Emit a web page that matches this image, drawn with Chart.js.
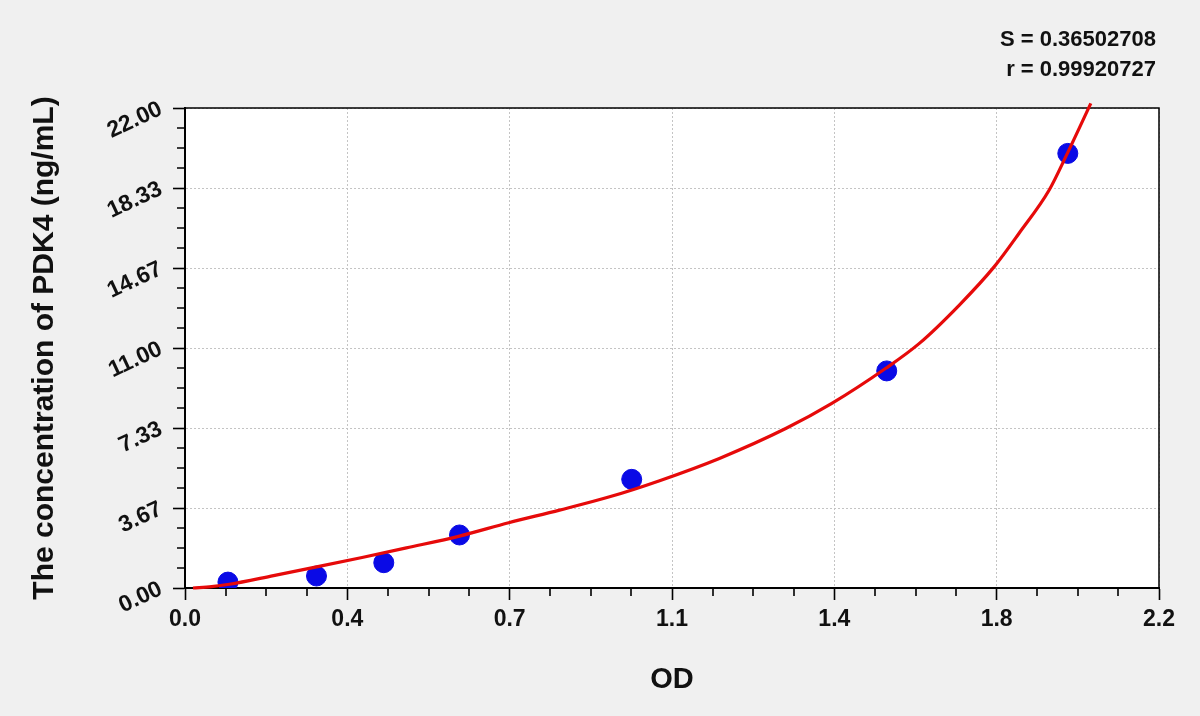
<!DOCTYPE html>
<html>
<head>
<meta charset="utf-8">
<script src="https://cdn.jsdelivr.net/npm/chart.js@4.4.1/dist/chart.umd.min.js"></script>
<style>
  html, body { margin: 0; padding: 0; background: #f0f0f0; }
  #wrap { width: 1200px; height: 716px; position: relative; }
</style>
</head>
<body>
<div id="wrap"><canvas id="std-curve"></canvas></div>
<script>
// standards (OD vs concentration)
var odValues   = [0.097, 0.297, 0.449, 0.620, 1.009, 1.585, 1.994];
var concValues = [0.27, 0.55, 1.16, 2.43, 4.98, 9.95, 19.92];

// fitted curve
var curveOD   = [0.018, 0.06, 0.10, 0.20, 0.30, 0.40, 0.50, 0.62, 0.731, 0.846, 0.959, 1.072, 1.207, 1.358, 1.461, 1.583, 1.658, 1.749, 1.828, 1.884, 1.952, 1.993, 2.046];
var curveConc = [0.00, 0.06, 0.17, 0.57, 0.98, 1.40, 1.84, 2.38, 2.99, 3.57, 4.18, 4.92, 5.94, 7.32, 8.46, 10.07, 11.2, 12.97, 14.73, 16.26, 18.24, 19.92, 22.21];

// axis ticks
var xTickLabels = ['0.0', '0.4', '0.7', '1.1', '1.4', '1.8', '2.2'];
var yTickLabels = ['0.00', '3.67', '7.33', '11.00', '14.67', '18.33', '22.00'];
var xMax = 2.2, yMax = 22;
var minorPerMajor = 4;

var fitStats = ['S = 0.36502708', 'r = 0.99920727'];

var FONT = '"Liberation Sans", Arial, sans-serif';

function toPoints(xs, ys) {
  var out = [];
  for (var i = 0; i < xs.length; i++) out.push({x: xs[i], y: ys[i]});
  return out;
}

// one tick every quarter of a labelled step, labels on every 4th
function buildTicks(scale, max, labels) {
  var n = (labels.length - 1) * minorPerMajor;
  var ticks = [];
  for (var i = 0; i <= n; i++) ticks.push({value: max * i / n});
  scale.ticks = ticks;
}

function isMajor(c) { return c.index % minorPerMajor === 0; }

var frame = {
  id: 'frame',
  beforeDraw: function(chart) {
    var a = chart.chartArea, ctx = chart.ctx;
    ctx.save();
    ctx.fillStyle = '#f0f0f0';
    ctx.fillRect(0, 0, chart.width, chart.height);
    ctx.fillStyle = '#ffffff';
    ctx.fillRect(a.left, a.top, a.right - a.left, a.bottom - a.top);
    ctx.restore();
  },
  beforeDatasetsDraw: function(chart) {
    var a = chart.chartArea, ctx = chart.ctx;
    ctx.save();
    ctx.strokeStyle = '#000';
    ctx.lineWidth = 1.5;
    ctx.beginPath();
    ctx.moveTo(a.left, a.top);
    ctx.lineTo(a.right, a.top);
    ctx.lineTo(a.right, a.bottom);
    ctx.stroke();

    // shorter minor ticks
    var sx = chart.scales.x, sy = chart.scales.y, len = 8;
    ctx.lineWidth = 1.6;
    ctx.beginPath();
    sx.ticks.forEach(function(t, i) {
      if (i % minorPerMajor === 0) return;
      var px = Math.round(sx.getPixelForValue(t.value));
      ctx.moveTo(px, a.bottom);
      ctx.lineTo(px, a.bottom + len);
    });
    sy.ticks.forEach(function(t, i) {
      if (i % minorPerMajor === 0) return;
      var py = Math.round(sy.getPixelForValue(t.value));
      ctx.moveTo(a.left, py);
      ctx.lineTo(a.left - len, py);
    });
    ctx.stroke();
    ctx.restore();
  },
  afterDraw: function(chart) {
    var ctx = chart.ctx;
    ctx.save();
    ctx.fillStyle = '#111';
    ctx.font = 'bold 22px ' + FONT;
    ctx.textAlign = 'right';
    ctx.textBaseline = 'middle';
    ctx.fillText(fitStats[0], 1156, 40);
    ctx.fillText(fitStats[1], 1156, 70);
    ctx.restore();
  }
};

var tickFont = {family: FONT, size: 23, weight: 'bold'};

new Chart(document.getElementById('std-curve'), {
  type: 'scatter',
  data: {
    datasets: [{
      type: 'line',
      data: toPoints(curveOD, curveConc),
      borderColor: '#e60a0a',
      borderWidth: 3.2,
      pointRadius: 0,
      cubicInterpolationMode: 'monotone',
      fill: false,
      clip: false
    }, {
      data: toPoints(odValues, concValues),
      backgroundColor: '#0a0ae6',
      borderColor: '#0a0ae6',
      pointRadius: 10,
      pointHoverRadius: 10
    }]
  },
  options: {
    responsive: true,
    maintainAspectRatio: false,
    animation: false,
    layout: { padding: {top: 108, right: 41, left: 0, bottom: 0} },
    plugins: {
      legend: { display: false },
      tooltip: { enabled: false }
    },
    scales: {
      x: {
        type: 'linear',
        min: 0,
        max: xMax,
        afterBuildTicks: function(s) { buildTicks(s, xMax, xTickLabels); },
        afterFit: function(s) { s.height = 128; },
        ticks: {
          autoSkip: false,
          maxRotation: 0,
          padding: 6,
          color: '#111',
          font: tickFont,
          callback: function(v, i) { return i % minorPerMajor === 0 ? xTickLabels[i / minorPerMajor] : ''; }
        },
        grid: {
          color: '#c4c4c4',
          lineWidth: function(c) { return isMajor(c) ? 1 : 0; },
          tickColor: function(c) { return isMajor(c) ? '#000' : 'rgba(0,0,0,0)'; },
          tickWidth: 1.6,
          tickLength: 12
        },
        border: { color: '#000', width: 2, dash: [2, 2] },
        title: {
          display: true,
          text: 'OD',
          color: '#111',
          font: {family: FONT, size: 29, weight: 'bold'},
          padding: {bottom: 19}
        }
      },
      y: {
        type: 'linear',
        min: 0,
        max: yMax,
        afterBuildTicks: function(s) { buildTicks(s, yMax, yTickLabels); },
        afterFit: function(s) { s.width = 185; },
        ticks: {
          autoSkip: false,
          minRotation: 25,
          maxRotation: 25,
          padding: 12,
          color: '#111',
          font: tickFont,
          callback: function(v, i) { return i % minorPerMajor === 0 ? yTickLabels[i / minorPerMajor] : ''; }
        },
        grid: {
          color: '#c4c4c4',
          lineWidth: function(c) { return isMajor(c) ? 1 : 0; },
          tickColor: function(c) { return isMajor(c) ? '#000' : 'rgba(0,0,0,0)'; },
          tickWidth: 1.6,
          tickLength: 12
        },
        border: { color: '#000', width: 2, dash: [2, 2] },
        title: {
          display: true,
          text: 'The concentration of PDK4 (ng/mL)',
          color: '#111',
          font: {family: FONT, size: 30, weight: 'bold'},
          padding: {top: 27}
        }
      }
    }
  },
  plugins: [frame]
});
</script>
</body>
</html>
